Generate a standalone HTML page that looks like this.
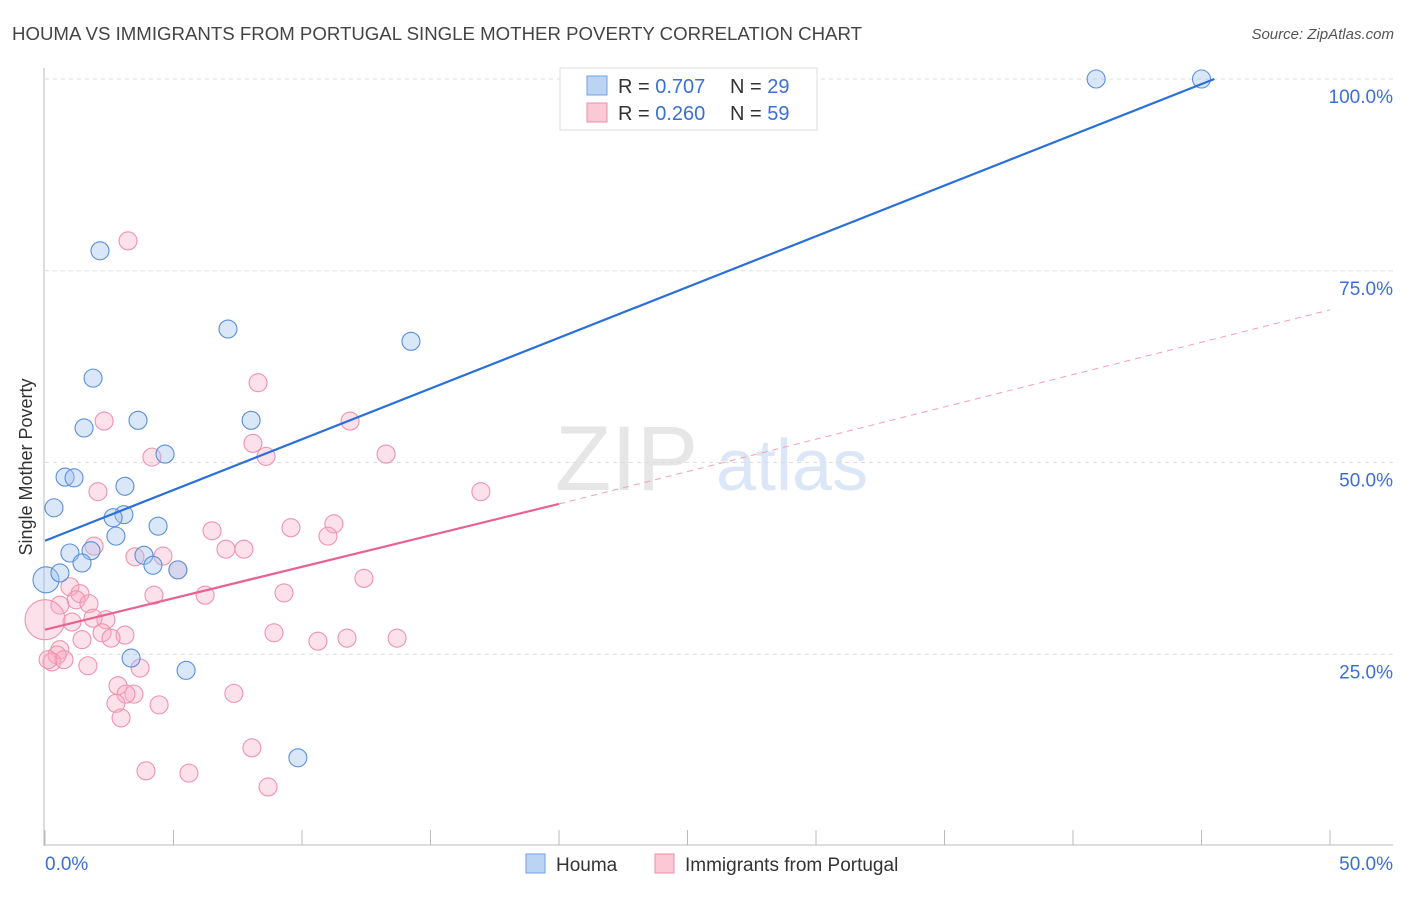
<!DOCTYPE html>
<html><head><meta charset="utf-8"><style>
body{margin:0;background:#fff;font-family:"Liberation Sans",sans-serif;}
svg text{font-family:"Liberation Sans",sans-serif;}
</style></head><body>
<svg id="chart" width="1406" height="892" xmlns="http://www.w3.org/2000/svg">
<text x="12" y="40" font-size="18" fill="#444" textLength="850" lengthAdjust="spacingAndGlyphs">HOUMA VS IMMIGRANTS FROM PORTUGAL SINGLE MOTHER POVERTY CORRELATION CHART</text>
<text x="1394" y="39" font-size="15" fill="#555" font-style="italic" text-anchor="end">Source: ZipAtlas.com</text>
<text x="20" y="455" font-size="18" fill="#333" transform="rotate(-90 32 455)" text-anchor="middle">Single Mother Poverty</text>
<g>
<text x="555" y="490" font-size="92" fill="#e6e6e6" font-family="Liberation Serif">ZIP</text>
<text x="716" y="490" font-size="72" fill="#dbe6f6">atlas</text>
</g>
<g id="grid"></g><g id="axes"></g><g id="marks"></g><g id="lines"></g>
<g>
<rect x="560" y="68" width="257" height="62" fill="#fff" stroke="#ddd"/>
<rect x="587" y="76" width="20" height="19" fill="#bcd4f4" stroke="#6f9fe0"/>
<rect x="587" y="103" width="20" height="19" fill="#fbc8d6" stroke="#ee8eaa"/>
<text x="618" y="93" font-size="20" fill="#333">R = <tspan fill="#3a6fd8">0.707</tspan></text>
<text x="730" y="93" font-size="20" fill="#333">N = <tspan fill="#3a6fd8">29</tspan></text>
<text x="618" y="120" font-size="20" fill="#333">R = <tspan fill="#3a6fd8">0.260</tspan></text>
<text x="730" y="120" font-size="20" fill="#333">N = <tspan fill="#3a6fd8">59</tspan></text>
</g>
<g>
<rect x="526" y="854" width="19" height="19" fill="#bcd4f4" stroke="#6f9fe0"/>
<text x="556" y="871" font-size="19" fill="#333">Houma</text>
<rect x="655" y="854" width="19" height="19" fill="#fbc8d6" stroke="#ee8eaa"/>
<text x="685" y="871" font-size="19" fill="#333">Immigrants from Portugal</text>
</g>
</svg>
<script>
const blueX=[40.9,45.0,2.14,7.12,14.24,1.87,3.62,8.02,1.52,4.67,0.78,1.13,3.11,0.35,3.07,2.65,4.40,2.76,0.97,1.79,3.85,1.44,4.20,5.17,0.04,0.58,3.35,5.49,9.84];
const blueY=[100,100,77.6,67.4,65.8,61.0,55.5,55.5,54.5,51.1,48.1,48.0,46.9,44.1,43.2,42.8,41.7,40.4,38.2,38.5,37.9,36.9,36.6,36.0,34.7,35.6,24.5,22.9,11.5];
const blueR=[9,9,9,9,9,9,9,9,9,9,9,9,9,9,9,9,9,9,9,9,9,9,9,9,13,9,9,9,9];
const pinkX=[3.23,8.29,2.30,11.87,8.09,4.16,8.60,13.27,2.06,16.96,6.50,9.57,11.24,11.01,1.91,7.04,7.74,3.50,4.59,5.17,12.41,0.97,1.36,4.24,6.23,9.30,1.21,1.71,0.58,2.37,1.05,1.87,0,2.22,1.44,3.11,2.57,8.91,10.62,11.75,13.70,0.58,0.47,0.27,0.74,1.67,3.70,2.84,3.46,3.15,7.35,2.76,4.44,2.96,8.05,3.93,5.60,8.68,0.12];
const pinkY=[78.9,60.4,55.4,55.4,52.5,50.7,50.8,51.1,46.2,46.2,41.1,41.5,42.0,40.4,39.1,38.7,38.7,37.7,37.8,36.0,34.9,33.8,32.9,32.7,32.7,33.0,32.1,31.6,31.4,29.5,29.2,29.7,29.5,27.8,26.9,27.5,27.1,27.8,26.7,27.1,27.1,25.6,24.9,24.0,24.3,23.5,23.2,20.9,19.8,19.8,19.9,18.6,18.4,16.7,12.8,9.8,9.5,7.7,24.3];
const pinkR=pinkX.map((v,i)=>i===32?20:9);
const blueLine=[[0,39.8],[45.5,100]];
const pinkLine=[[0,28.2],[20,44.6],[50,69.9]];
const yTicks=[25,50,75,100];
const xTickLabels=["0.0%","50.0%"];
const NS="http://www.w3.org/2000/svg";
const X=v=>45+v/50*1285, Y=v=>846-v/100*767;
function mk(tag,attrs,parent){const e=document.createElementNS(NS,tag);for(const k in attrs)e.setAttribute(k,attrs[k]);document.getElementById(parent).appendChild(e);return e;}
yTicks.forEach(t=>{
  const l=mk('line',{x1:45,x2:1393,y1:Y(t),y2:Y(t),stroke:'#ddd','stroke-dasharray':'4 4'},'grid');
  
  
  const tx=mk('text',{x:1393,y:Y(t)+24,'font-size':19,fill:'#3a6fd8','text-anchor':'end'},'grid');
  tx.textContent=t.toFixed(1)+'%';
  
  
});
mk('line',{x1:44,x2:44,y1:68,y2:846,stroke:'#bbb'},'axes');
mk('line',{x1:44,x2:1393,y1:845,y2:845,stroke:'#bbb'},'axes');
for(let i=0;i<=10;i++){const t=mk('line',{x1:X(i*5),x2:X(i*5),y1:830,y2:845,stroke:'#bbb'},'axes');
  
  }
const xl0=mk('text',{x:45,y:870,'font-size':19,fill:'#3a6fd8'},'axes');xl0.textContent=xTickLabels[0];


const xl1=mk('text',{x:1393,y:870,'font-size':19,fill:'#3a6fd8','text-anchor':'end'},'axes');xl1.textContent=xTickLabels[1];


pinkX.forEach((v,i)=>{const c=mk('circle',{cx:X(v),cy:Y(pinkY[i]),r:pinkR[i],fill:'rgba(248,170,195,0.35)',stroke:'#ee93ae','stroke-width':1.1},'marks');
  
  });
blueX.forEach((v,i)=>{const c=mk('circle',{cx:X(v),cy:Y(blueY[i]),r:blueR[i],fill:'rgba(160,195,240,0.4)',stroke:'#5a8fdc','stroke-width':1.1},'marks');
  
  });
const bl=mk('line',{x1:X(blueLine[0][0]),y1:Y(blueLine[0][1]),x2:X(blueLine[1][0]),y2:Y(blueLine[1][1]),stroke:'#2a70d8','stroke-width':2.2},'lines');


const pl=mk('line',{x1:X(pinkLine[0][0]),y1:Y(pinkLine[0][1]),x2:X(pinkLine[1][0]),y2:Y(pinkLine[1][1]),stroke:'#e8638f','stroke-width':2.2},'lines');


const pd=mk('line',{x1:X(pinkLine[1][0]),y1:Y(pinkLine[1][1]),x2:X(pinkLine[2][0]),y2:Y(pinkLine[2][1]),stroke:'#eea0b8','stroke-width':1,'stroke-dasharray':'6 5'},'lines');


</script>
</body></html>
